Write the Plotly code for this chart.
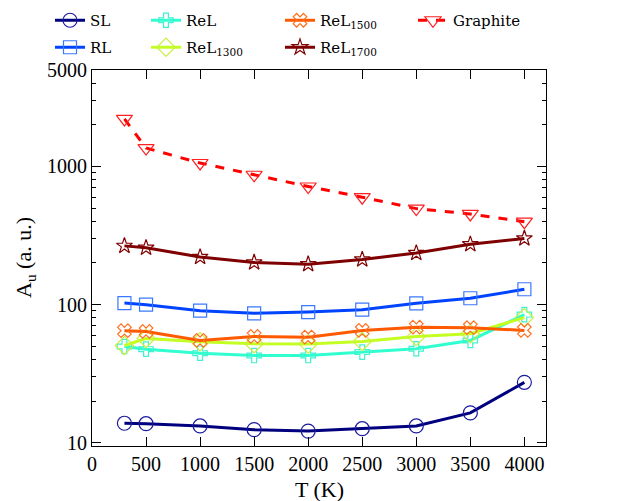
import plotly.graph_objects as go

T = [300, 500, 1000, 1500, 2000, 2500, 3000, 3500, 4000]
SL = [13.8, 13.7, 13.2, 12.4, 12.1, 12.6, 13.2, 16.4, 27.3]
RL = [102.5, 99.7, 90.3, 86.4, 88.2, 91.8, 102, 111, 129]
ReL = [49.6, 47.5, 44.4, 42.7, 42.7, 45.2, 47.8, 54.9, 84.5]
ReL1300 = [50.5, 56.7, 53.7, 52.0, 51.7, 54.0, 58.7, 61.4, 80.4]
ReL1500 = [64.6, 63.8, 54.9, 58.7, 58.0, 64.9, 68.5, 67.9, 64.9]
ReL1700 = [266, 257.6, 221, 201.7, 196, 212, 236, 273, 301]
Graphite = [2210, 1360, 1060, 871, 716, 599, 495, 453, 398]

x_ticks = [0, 500, 1000, 1500, 2000, 2500, 3000, 3500, 4000]
y_ticks = [10, 100, 1000, 5000]
y_minor = [20, 30, 40, 50, 60, 70, 80, 90,
           200, 300, 400, 500, 600, 700, 800, 900,
           2000, 3000, 4000]

series = [
    ("SL", SL, "#00007f", "#1a1aa0", "circle-open", "solid", "legend", 14),
    ("RL", RL, "#0044ff", "#3a78ff", "square-open", "solid", "legend2", 13),
    ("ReL", ReL, "#30ffd0", "#40f0d0", "cross-open", "solid", "legend3", 12),
    ("ReL<sub>1300</sub>", ReL1300, "#c4ff22", "#c8f040", "diamond-open", "solid", "legend4", 14),
    ("ReL<sub>1500</sub>", ReL1500, "#ff5a00", "#ff7020", "x-open", "solid", "legend5", 12),
    ("ReL<sub>1700</sub>", ReL1700, "#7f0000", "#800000", "star-open", "solid", "legend6", 12),
    ("Graphite", Graphite, "#ff0000", "#ff2020", "triangle-down-open", "dash", "legend7", 14),
]

fig = go.Figure()
for name, vals, lc, mc, sym, dash, lg, ms in series:
    fig.add_trace(go.Scatter(
        x=T, y=vals, name=name, mode="lines+markers",
        line=dict(color=lc, width=3, dash=dash),
        marker=dict(symbol=sym, size=ms, color=mc, line=dict(color=mc, width=1.2)),
        legend=lg,
    ))

legfont = dict(family="DejaVu Serif", size=15, color="black")
cols = [50, 146, 280, 413]
rows = [4, 31]
pos = {
    "legend": (cols[0], rows[0]), "legend2": (cols[0], rows[1]),
    "legend3": (cols[1], rows[0]), "legend4": (cols[1], rows[1]),
    "legend5": (cols[2], rows[0]), "legend6": (cols[2], rows[1]),
    "legend7": (cols[3], rows[0]),
}
W, H = 619, 501
L, R, TOP, B = 92, 73, 70, 55
PW, PH = W - L - R, H - TOP - B
legs = {}
for k, (px, py) in pos.items():
    legs[k] = dict(xref="container", yref="container", x=px / W, y=1 - py / H,
                   xanchor="left", yanchor="top", font=legfont,
                   bgcolor="rgba(0,0,0,0)", borderwidth=0, itemwidth=30)

axfont = dict(family="Liberation Serif", size=20, color="black")
titlefont = dict(family="Liberation Serif", size=22, color="black")
fig.update_layout(
    width=W, height=H,
    margin=dict(l=L, r=R, t=TOP, b=B, autoexpand=False),
    plot_bgcolor="white", paper_bgcolor="white",
    showlegend=True,
    **legs,
    xaxis=dict(
        range=[0, 4200], tickvals=x_ticks, ticktext=[str(v) for v in x_ticks],
        ticks="inside", ticklen=9, tickwidth=1.2, tickcolor="black",
        showline=True, linecolor="black", linewidth=1.2, mirror="ticks",
        showgrid=False, zeroline=False, tickfont=axfont,
    ),
    yaxis=dict(
        type="log", range=[0.975, 3.699], tickvals=y_ticks, ticktext=[str(v) for v in y_ticks],
        ticks="inside", ticklen=9, tickwidth=1.2, tickcolor="black",
        minor=dict(tickmode="array", tickvals=y_minor, ticks="inside", ticklen=4,
                   tickwidth=1, tickcolor="black", showgrid=False),
        showline=True, linecolor="black", linewidth=1.2, mirror="ticks",
        showgrid=False, zeroline=False, tickfont=axfont,
    ),
    annotations=[
        dict(text="T (K)", xref="paper", yref="paper", x=0.5, y=(H - B - 489) / PH,
             xanchor="center", yanchor="middle", showarrow=False, font=titlefont),
        dict(text="A<sub>u</sub> (a. u.)", xref="paper", yref="paper", x=(25 - L) / PW, y=0.5,
             xanchor="center", yanchor="middle", textangle=-90, showarrow=False, font=titlefont),
    ],
)

fig.write_html("out.html", config={"displayModeBar": False},
               post_script="document.body.style.margin='0';document.body.style.overflow='hidden';")
